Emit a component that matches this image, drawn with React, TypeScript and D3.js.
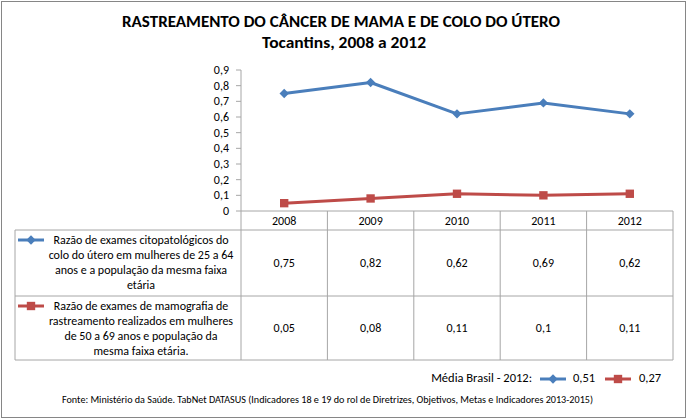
import React from 'react';
import * as d3 from 'd3';

// --- data ---
const years = ['2008', '2009', '2010', '2011', '2012'];
const citoValues = [0.75, 0.82, 0.62, 0.69, 0.62];
const mamoValues = [0.05, 0.08, 0.11, 0.1, 0.11];
const yTicks = [0, 0.1, 0.2, 0.3, 0.4, 0.5, 0.6, 0.7, 0.8, 0.9];
const citoLabel = [
    'Razão de exames citopatológicos do',
    'colo do útero em mulheres de 25 a 64',
    'anos e a população da mesma faixa',
    'etária',
];
const mamoLabel = [
    'Razão de exames de mamografia de',
    'rastreamento realizados em mulheres',
    'de 50 a 69 anos e população da',
    'mesma faixa etária.',
];
const brasilCito = 0.51;
const brasilMamo = 0.27;

const W = 690;
const H = 419;
const BLUE = '#4a7ebb';
const RED = '#be4b48';
const GRID = '#a6a6a6';
const FONT = 'Carlito, Calibri, Lato, "Noto Sans", sans-serif';
const FS = 12;

const fmt = (v: number) => String(v).replace('.', ',');

const Marker: React.FC<{ kind: 'diamond' | 'square', x: number, y: number, color: string }> = ({ kind, x, y, color }) => {
    const path = kind === 'diamond'
        ? d3.symbol(d3.symbolSquare, 44)()
        : d3.symbol(d3.symbolSquare, 70)();
    const rot = kind === 'diamond' ? 45 : 0;
    return <path d={path || ''} transform={`translate(${x},${y}) rotate(${rot})`} fill={color} />;
};

const LegendKey: React.FC<{ kind: 'diamond' | 'square', x: number, y: number, color: string }> = ({ kind, x, y, color }) => (
    <g>
        <line x1={x} x2={x + 26} y1={y} y2={y} stroke={color} strokeWidth={3} />
        <Marker kind={kind} x={x + 13} y={y} color={color} />
    </g>
);

export default function App() {
    const x = d3.scaleBand<string>().domain(years).range([241, 673]);
    const y = d3.scaleLinear().domain([0, 0.9]).range([211, 70]);
    const cx = (yr: string) => (x(yr) || 0) + x.bandwidth() / 2;

    const line = d3.line<number>()
        .x((_, i) => cx(years[i]))
        .y(d => y(d));

    const tableLeft = 15;
    const catTop = 211;
    const catBottom = 230;
    const rowMid = 296;
    const tableBottom = 360;
    const labelCx = 141;

    const series = [
        { values: citoValues, color: BLUE, kind: 'diamond' as const, label: citoLabel, top: catBottom, bottom: rowMid, firstBase: 244 },
        { values: mamoValues, color: RED, kind: 'square' as const, label: mamoLabel, top: rowMid, bottom: tableBottom, firstBase: 310 },
    ];

    return (
        <svg width={W} height={H} style={{ position: 'absolute', left: 0, top: 0 }} fontFamily={FONT}>
            <rect x={0} y={0} width={W} height={H} fill="#fff" />
            <rect x={1.5} y={1.5} width={684} height={416} fill="none" stroke="#868686" strokeWidth={1} />

            {/* title */}
            <text x={341} y={27} textAnchor="middle" fontWeight="bold" fontSize={15.5} fill="#000"
                textLength={438} lengthAdjust="spacingAndGlyphs">RASTREAMENTO DO CÂNCER DE MAMA E DE COLO DO ÚTERO</text>
            <text x={344} y={48} textAnchor="middle" fontWeight="bold" fontSize={15.5} fill="#000"
                textLength={164} lengthAdjust="spacingAndGlyphs">Tocantins, 2008 a 2012</text>

            {/* y axis */}
            <line x1={241} x2={241} y1={y(0.9)} y2={tableBottom} stroke={GRID} />
            {yTicks.map(t => (
                <g key={t}>
                    <line x1={236} x2={241} y1={y(t)} y2={y(t)} stroke={GRID} />
                    <text x={229} y={y(t) + 4} textAnchor="end" fontSize={FS} fill="#000">{fmt(t)}</text>
                </g>
            ))}

            {/* table grid */}
            <line x1={241} x2={673} y1={catTop} y2={catTop} stroke={GRID} />
            <line x1={241} x2={673} y1={catBottom} y2={catBottom} stroke={GRID} />
            <line x1={tableLeft} x2={241} y1={catBottom} y2={catBottom} stroke={GRID} />
            <line x1={tableLeft} x2={673} y1={rowMid} y2={rowMid} stroke={GRID} />
            <line x1={tableLeft} x2={673} y1={tableBottom} y2={tableBottom} stroke={GRID} />
            <line x1={tableLeft} x2={tableLeft} y1={catBottom} y2={tableBottom} stroke={GRID} />
            {years.map(yr => (
                <line key={yr} x1={(x(yr) || 0) + x.bandwidth()} x2={(x(yr) || 0) + x.bandwidth()}
                    y1={catTop} y2={tableBottom} stroke={GRID} />
            ))}
            {years.map(yr => (
                <text key={yr} x={cx(yr)} y={225} textAnchor="middle" fontSize={FS} fill="#000">{yr}</text>
            ))}

            {/* series */}
            {series.map((s, si) => (
                <g key={si}>
                    <path d={line(s.values) || ''} fill="none" stroke={s.color} strokeWidth={3} strokeLinejoin="round" />
                    {s.values.map((v, i) => (
                        <Marker key={i} kind={s.kind} x={cx(years[i])} y={y(v)} color={s.color} />
                    ))}
                    <LegendKey kind={s.kind} x={18} y={s.firstBase - 4} color={s.color} />
                    {s.label.map((l, li) => (
                        <text key={li} x={labelCx} y={s.firstBase + li * 15} textAnchor="middle" fontSize={FS} fill="#000">{l}</text>
                    ))}
                    {s.values.map((v, i) => (
                        <text key={i} x={cx(years[i])} y={(s.top + s.bottom) / 2 + 4} textAnchor="middle" fontSize={FS} fill="#000">{fmt(v)}</text>
                    ))}
                </g>
            ))}

            {/* Brasil average legend */}
            <text x={532} y={382} textAnchor="end" fontSize={12.5} fill="#000">Média Brasil - 2012:</text>
            <LegendKey kind="diamond" x={540} y={379} color={BLUE} />
            <text x={573} y={382} fontSize={12.5} fill="#000">{fmt(brasilCito)}</text>
            <LegendKey kind="square" x={605} y={379} color={RED} />
            <text x={639} y={382} fontSize={12.5} fill="#000">{fmt(brasilMamo)}</text>

            {/* source */}
            <text x={62} y={403} fontSize={9.5} fill="#000" textLength={531} lengthAdjust="spacingAndGlyphs">
                Fonte: Ministério da Saúde. TabNet DATASUS (Indicadores 18 e 19 do rol de Diretrizes, Objetivos, Metas e Indicadores 2013-2015)
            </text>
        </svg>
    );
}
